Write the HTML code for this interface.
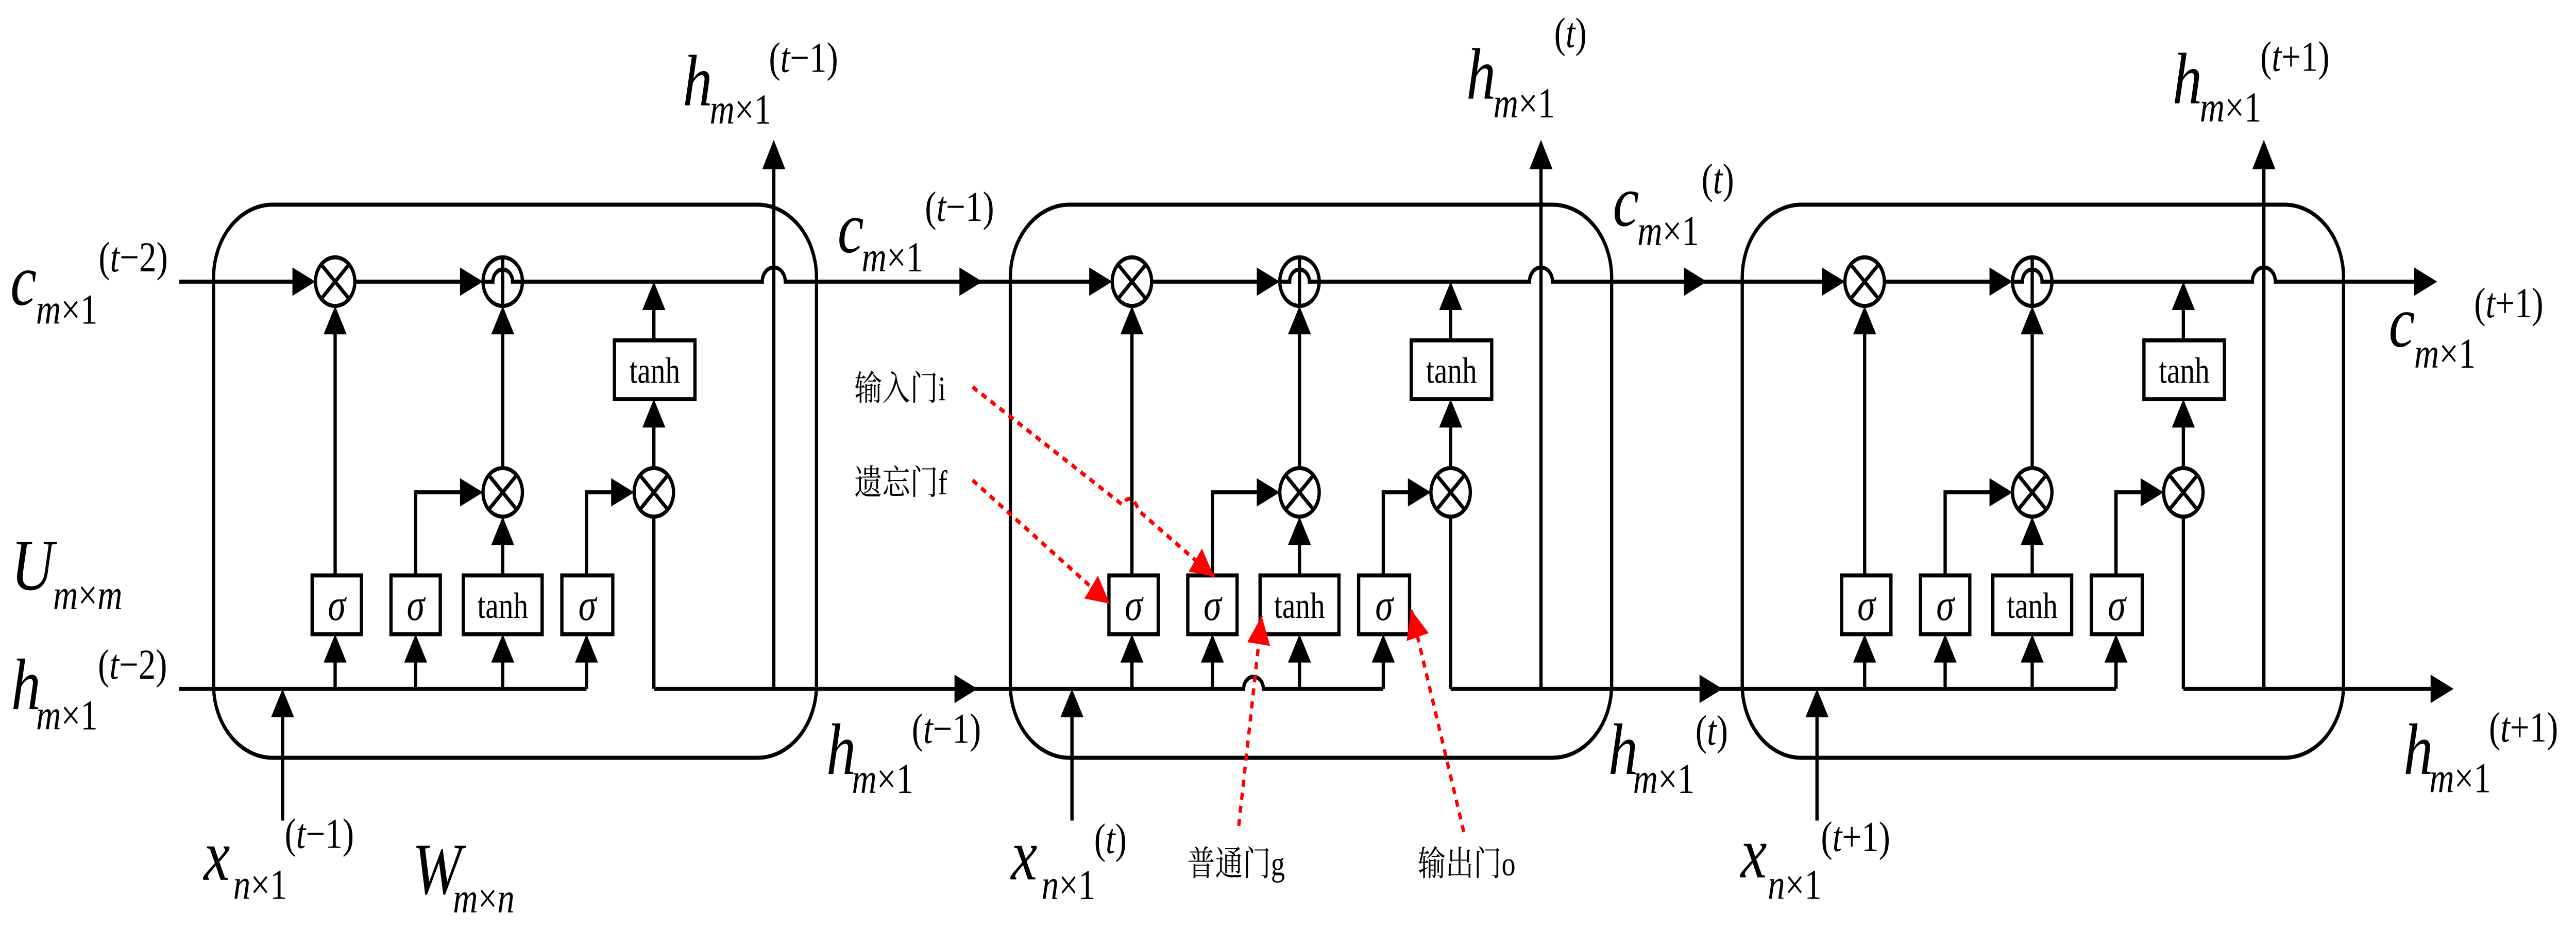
<!DOCTYPE html>
<html><head><meta charset="utf-8"><style>
html,body{margin:0;padding:0;background:#fff;width:100%;height:100%;overflow:hidden;}
svg{display:block;position:absolute;left:0;top:0;width:100vw;height:100vh;}
svg text{font-family:"Liberation Serif","Times New Roman",Times,"DejaVu Serif","Noto Serif CJK SC",serif;}
</style></head><body>
<svg viewBox="0 0 1568 459" preserveAspectRatio="none" xmlns="http://www.w3.org/2000/svg" xmlns:xlink="http://www.w3.org/1999/xlink">
<defs>
<marker id="ra" markerUnits="userSpaceOnUse" markerWidth="14" markerHeight="14" refX="14" refY="7" orient="auto"><path d="M0,0 L14,7 L0,14 z" fill="#f00"/></marker>
<g id="cell">
 <g fill="none" stroke="#000" stroke-width="2">
  <circle cx="204" cy="139" r="12"/><path d="M195.5,130.5 L212.5,147.5 M212.5,130.5 L195.5,147.5"/>
  <circle cx="306" cy="243" r="12"/><path d="M297.5,234.5 L314.5,251.5 M314.5,234.5 L297.5,251.5"/>
  <circle cx="398" cy="243" r="12"/><path d="M389.5,234.5 L406.5,251.5 M406.5,234.5 L389.5,251.5"/>
  <circle cx="306" cy="139" r="12"/>
  <path d="M294,139 H300 A6,6 0 0 1 312,139 H318 M306,151 V127"/>
  <rect x="190" y="284" width="30" height="29"/>
  <rect x="238" y="284" width="30" height="29"/>
  <rect x="282" y="284" width="48" height="29"/>
  <rect x="342" y="284" width="31" height="29"/>
  <rect x="374" y="168" width="49" height="29"/>
  <path d="M204,284 V160 M253,284 V243 H281 M306,284 V265 M306,231 V160 M357,284 V243 H373 M398,231 V208 M398,168 V150 M398,255 V340"/>
  <path d="M204,340 V325 M253,340 V325 M306,340 V325 M357,340 V325"/>
  <path d="M216,139 H281"/>
 </g>
 <g fill="#000" stroke="none">
    <polygon points="197,165 204,151 211,165"/>
    <polygon points="280,236 294,243 280,250"/>
    <polygon points="299,269 306,255 313,269"/>
    <polygon points="299,165 306,151 313,165"/>
    <polygon points="372,236 386,243 372,250"/>
    <polygon points="391,211 398,197 405,211"/>
    <polygon points="391,153 398,139 405,153"/>
    <polygon points="280,132 294,139 280,146"/>
    <polygon points="197,327 204,313 211,327"/>
    <polygon points="246,327 253,313 260,327"/>
    <polygon points="299,327 306,313 313,327"/>
    <polygon points="350,327 357,313 364,327"/>
 </g>
 <g fill="#000">
    <text x="205" y="306" font-size="22" font-style="italic" text-anchor="middle">σ</text>
    <text x="253" y="306" font-size="22" font-style="italic" text-anchor="middle">σ</text>
    <text x="306" y="305" font-size="18" text-anchor="middle">tanh</text>
    <text x="357.5" y="306" font-size="22" font-style="italic" text-anchor="middle">σ</text>
    <text x="398.5" y="189" font-size="18" text-anchor="middle">tanh</text>
 </g>
</g>
</defs>

<use xlink:href="#cell" href="#cell"/>
<use xlink:href="#cell" href="#cell" transform="translate(485,0)"/>
<use xlink:href="#cell" href="#cell" transform="translate(931,0)"/>

<g fill="none" stroke="#000" stroke-width="2">
  <rect x="130" y="101" width="367" height="273" rx="36"/>
  <rect x="615" y="101" width="366" height="273" rx="36"/>
  <rect x="1060.5" y="101" width="366" height="273" rx="36"/>
  <path d="M109,139 H180"/>
  <path d="M318,139 H464 A7,7 0 0 1 478,139 H665"/>
  <path d="M803,139 H931 A7,7 0 0 1 945,139 H1111"/>
  <path d="M1249,139 H1371 A7,7 0 0 1 1385,139 H1472"/>
  <path d="M109,340 H357"/>
  <path d="M398,340 H757 A6,6 0 0 1 769,340 H842"/>
  <path d="M883,340 H1288"/>
  <path d="M1329,340 H1482"/>
  <path d="M471,340 V82 M938,340 V82 M1378,340 V82"/>
  <path d="M172,405 V352 M652.5,405 V352 M1106,405 V352"/>
</g>
<g fill="#000">
  <polygon points="178,132 192,139 178,146"/>
  <polygon points="663,132 677,139 663,146"/>
  <polygon points="1109,132 1123,139 1109,146"/>
  <polygon points="584,132 598,139 584,146"/>
  <polygon points="1025,132 1039,139 1025,146"/>
  <polygon points="1469.5,132 1483.5,139 1469.5,146"/>
  <polygon points="581,333 595,340 581,347"/>
  <polygon points="1034.5,333 1048.5,340 1034.5,347"/>
  <polygon points="1479.5,333 1493.5,340 1479.5,347"/>
  <polygon points="464,83.5 471,69 478,83.5"/>
  <polygon points="931,83.5 938,69 945,83.5"/>
  <polygon points="1371,83.5 1378,69 1385,83.5"/>
  <polygon points="165,354 172,340 179,354"/>
  <polygon points="645.5,354 652.5,340 659.5,354"/>
  <polygon points="1099,354 1106,340 1113,354"/>
</g>

<g fill="none" stroke="#f00" stroke-width="2" stroke-dasharray="3.5,3">
  <path d="M592,191 L683,249 Q689,242 693,252 L739,284.5" marker-end="url(#ra)"/>
  <path d="M592,237 L675.5,298" marker-end="url(#ra)"/>
  <path d="M754,407.6 L768,304" marker-end="url(#ra)"/>
  <path d="M891,410.6 L859,301" marker-end="url(#ra)"/>
</g>
<g font-size="17" fill="#000">
  <text x="520" y="197.5">输入门i</text>
  <text x="520" y="244">遗忘门f</text>
  <text x="722.6" y="432">普通门g</text>
  <text x="863" y="432">输出门o</text>
</g>

<g font-size="36" font-style="italic" fill="#000">
  <text x="6.3" y="150.4">c</text>
  <text x="6.8" y="350">h</text>
  <text x="6.8" y="291">U</text>
  <text x="124" y="434.3">x</text>
  <text x="251" y="441">W</text>
  <text x="415.6" y="52">h</text>
  <text x="509.8" y="124.5">c</text>
  <text x="503" y="382">h</text>
  <text x="615.4" y="434">x</text>
  <text x="892.5" y="48.7">h</text>
  <text x="981.7" y="111.4">c</text>
  <text x="979" y="382">h</text>
  <text x="1059.5" y="433">x</text>
  <text x="1322.4" y="51">h</text>
  <text x="1454" y="171">c</text>
  <text x="1463" y="382">h</text>
</g>
<g font-size="21" fill="#000">
  <text x="21.9" y="159.7"><tspan font-style="italic">m</tspan>×1</text>
  <text x="22" y="360"><tspan font-style="italic">m</tspan>×1</text>
  <text x="32.3" y="300.7"><tspan font-style="italic">m</tspan>×<tspan font-style="italic">m</tspan></text>
  <text x="142" y="443.6"><tspan font-style="italic">n</tspan>×1</text>
  <text x="275.7" y="450.4"><tspan font-style="italic">m</tspan>×<tspan font-style="italic">n</tspan></text>
  <text x="432" y="61"><tspan font-style="italic">m</tspan>×1</text>
  <text x="524.5" y="134"><tspan font-style="italic">m</tspan>×1</text>
  <text x="518.5" y="391.4"><tspan font-style="italic">m</tspan>×1</text>
  <text x="634" y="443.8"><tspan font-style="italic">n</tspan>×1</text>
  <text x="909" y="58"><tspan font-style="italic">m</tspan>×1</text>
  <text x="996.7" y="121"><tspan font-style="italic">m</tspan>×1</text>
  <text x="994" y="391.4"><tspan font-style="italic">m</tspan>×1</text>
  <text x="1076" y="443.6"><tspan font-style="italic">n</tspan>×1</text>
  <text x="1339" y="60"><tspan font-style="italic">m</tspan>×1</text>
  <text x="1469.5" y="181.5"><tspan font-style="italic">m</tspan>×1</text>
  <text x="1478.7" y="391"><tspan font-style="italic">m</tspan>×1</text>

  <text x="60" y="133.9">(<tspan font-style="italic">t</tspan>−2)</text>
  <text x="59.6" y="335">(<tspan font-style="italic">t</tspan>−2)</text>
  <text x="173.3" y="418.5">(<tspan font-style="italic">t</tspan>−1)</text>
  <text x="468" y="35.5">(<tspan font-style="italic">t</tspan>−1)</text>
  <text x="563" y="109">(<tspan font-style="italic">t</tspan>−1)</text>
  <text x="555" y="366.6">(<tspan font-style="italic">t</tspan>−1)</text>
  <text x="666" y="421">(<tspan font-style="italic">t</tspan>)</text>
  <text x="946" y="23.3">(<tspan font-style="italic">t</tspan>)</text>
  <text x="1035.7" y="95.3">(<tspan font-style="italic">t</tspan>)</text>
  <text x="1032" y="367.5">(<tspan font-style="italic">t</tspan>)</text>
  <text x="1108.4" y="420">(<tspan font-style="italic">t</tspan>+1)</text>
  <text x="1375.8" y="35">(<tspan font-style="italic">t</tspan>+1)</text>
  <text x="1506" y="156.6">(<tspan font-style="italic">t</tspan>+1)</text>
  <text x="1515" y="366">(<tspan font-style="italic">t</tspan>+1)</text>
</g>
</svg>
</body></html>
